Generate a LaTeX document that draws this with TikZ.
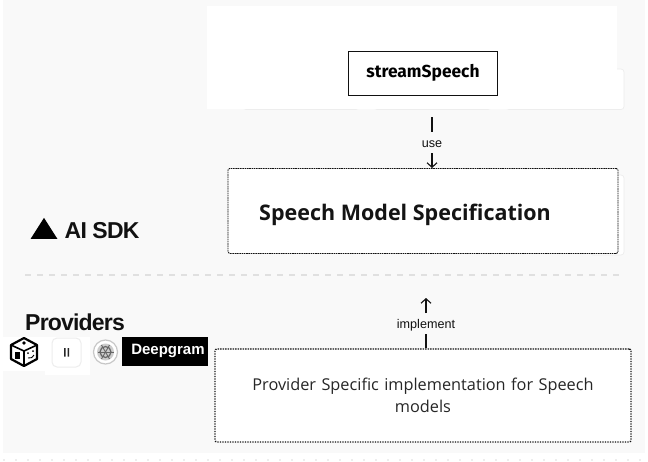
\documentclass[tikz,border=0pt]{standalone}
\usepackage{fontspec}
\setmainfont{Open Sans}
\newfontfamily\helv{Liberation Sans}
\newfontfamily\helvtight[LetterSpace=-3.5]{Liberation Sans}
\newfontfamily\fira{Fira Sans}
\usetikzlibrary{arrows.meta,shapes.geometric}
\definecolor{panel}{HTML}{F9F9F9}
\definecolor{ghost}{HTML}{EDEDED}
\definecolor{sepgray}{HTML}{E0E0E0}
\definecolor{ink}{HTML}{111111}
\tikzset{
  x=1pt,y=-1pt,
  specbox/.style={draw=ink,fill=white,line width=.8pt,dash pattern=on 1.6pt off .7pt,rounded corners=1.5pt,minimum width=390pt,minimum height=85pt,inner sep=0pt},
  implbox/.style={draw=ink,fill=white,line width=1.4pt,dash pattern=on 1.3pt off 1.2pt,rounded corners=2pt,minimum width=416pt,minimum height=93pt,inner sep=0pt,align=center,text width=380pt,font=\fontsize{16.3}{22}\selectfont,text=black!85},
  callbox/.style={draw=ink,fill=white,line width=.9pt,minimum width=149pt,minimum height=44pt,inner sep=0pt,font=\fira\fontsize{17.4}{20}\selectfont\bfseries},
  ghostcard/.style={draw=ghost,fill=white,line width=.7pt,rounded corners=3pt},
  conn/.style={draw=ink,line width=1.1pt},
  connarrow/.style={conn,-{Straight Barb[length=4.5pt,width=10pt,line width=1.1pt]}},
  tag/.style={font=\helv\fontsize{12.6}{14}\selectfont,text=ink,inner sep=0pt},
  sep/.style={draw=sepgray,line width=2.6pt,dash pattern=on 6pt off 6pt},
  brand/.style={text=ink,inner sep=0pt,anchor=west,font=\helvtight\bfseries\fontsize{23}{26}\selectfont},
}
\begin{document}
\begin{tikzpicture}
\useasboundingbox (0,0) rectangle (648,461);
\fill[white] (0,0) rectangle (648,461);
\fill[panel] (3,0) rectangle (645,453);
\draw[draw=ghost,line width=1.2pt,dash pattern=on 2pt off 10pt] (3,460) -- (645,460);
% ghost cards behind the white area
\path[ghostcard] (243,70) rectangle (359,109.5);
\path[ghostcard] (374,70) rectangle (491,109.5);
\path[ghostcard] (506,69) rectangle (624,109.5);
\fill[white] (207,6) rectangle (617,108.5);
\path[ghostcard] (590,175) rectangle (624,255);
\draw[sep] (25,275) -- (624,275);
% boxes
\node[callbox] (call) at (423,73) {streamSpeech};
\node[specbox] (spec) at (423,211) {};
\node[inner sep=0pt,anchor=west,font=\fontsize{21.5}{24}\selectfont\bfseries,text=black!92] (spectext) at (259,215) {Speech Model Specification};
\node[implbox] (impl) at (423,395.5) {Provider Specific implementation for Speech\\ models};
% connectors
\coordinate (useTop) at (432,117);
\coordinate (useMid) at (432,132);
\coordinate (useLow) at (432,153);
\coordinate (useEnd) at (432,168);
\node[tag] (use) at (432,144.5) {use};
\draw[conn] (useTop) -- (useMid);
\draw[connarrow] (useLow) -- (useEnd);
\coordinate (impTop) at (426,298);
\coordinate (impHigh) at (426,313);
\coordinate (impLow) at (426,334);
\coordinate (impEnd) at (426,348);
\node[tag] (imp) at (426,325.5) {implement};
\draw[connarrow] (impHigh) -- (impTop);
\draw[conn] (impLow) -- (impEnd);
% brands
\node[isosceles triangle,isosceles triangle apex angle=65,shape border rotate=90,fill=black,inner sep=0pt,minimum height=21pt,minimum width=24pt] (tri) at (44,231.5) {};
\node[brand] (sdk) at (64.5,231) {AI SDK};
\node[brand] (prov) at (25,322) {Providers};
% logo strip
\fill[white] (0,337) rectangle (45,371);
\fill[white] (45,337) rectangle (90,375);
% cube icon
\draw[black,line width=2.2pt,line join=round,fill=white] (24,338) -- (37,345) -- (37,359) -- (24,366) -- (11,359) -- (11,345) -- cycle;
\draw[black,line width=1.6pt,line join=round] (24,351) -- (37,345) (24,351) -- (11,345) (24,351) -- (24,366);
\fill[black] (24,343) circle (1.8pt);
\fill[black] (15,352) rectangle (20,359);
\fill[black] (28,353) circle (1pt) (33,351) circle (1pt);
\draw[black,line width=.9pt] (28,358) .. controls (31,359) and (33,357) .. (34,355);
% pause button
\path[draw=ghost,fill=white,line width=1pt,rounded corners=5pt] (52,338) rectangle (81,367);
\fill[black!85] (64,348) rectangle (65.5,356.5) (67.5,348) rectangle (69,356.5);
% openai
\draw[black!22,fill=white,line width=1.2pt] (105.5,352) circle (12pt);
\fill[black!20] (105.5,352) circle (8.5pt);
\draw[black!60,line width=1.2pt] (105.5,352) circle (5.5pt);
\foreach \a in {0,60,...,300}{\draw[black!60,line width=.9pt] (105.5,352) -- ++(\a:8pt);}
% deepgram
\fill[black] (122,337) rectangle (208,366);
\node[inner sep=0pt,text=white,font=\helv\bfseries\fontsize{15}{16}\selectfont] (dg) at (168,351) {Deepgram};
\end{tikzpicture}
\end{document}
